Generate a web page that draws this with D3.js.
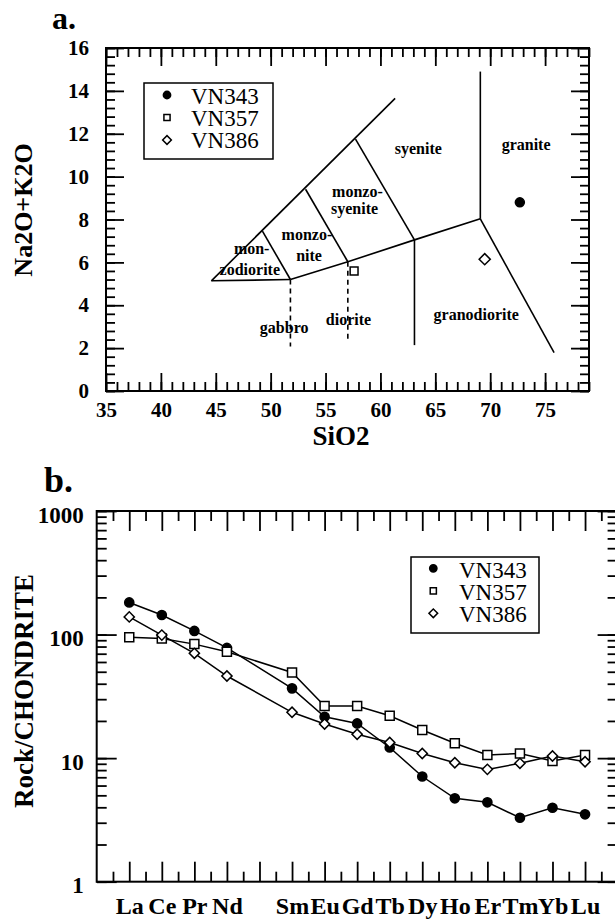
<!DOCTYPE html>
<html>
<head>
<meta charset="utf-8">
<script src="https://cdn.jsdelivr.net/npm/d3@7"></script>
<style>
body { margin: 0; background: #fff; }
</style>
</head>
<body>
<script>
// samples (same order in both panels)
var samples = ["VN343", "VN357", "VN386"];
var shapes = ["circle", "square", "diamond"];

// ---- panel a : TAS diagram ----
var sio2 = [72.7, 57.6, 69.5];
var alkali = [8.8, 5.6, 6.15];
var xTicksA = [35, 40, 45, 50, 55, 60, 65, 70, 75];
var yTicksA = [0, 2, 4, 6, 8, 10, 12, 14, 16];

// field boundaries, [SiO2, Na2O+K2O]
var fieldLines = [
  [[44.6, 5.14], [61.34, 13.65]],
  [[44.6, 5.14], [51.8, 5.2]],
  [[49.25, 7.46], [51.8, 5.2]],
  [[51.8, 5.2], [57.03, 6.03], [63.1, 7.05], [69.1, 8.03]],
  [[53.18, 9.41], [57.03, 6.03]],
  [[57.73, 11.75], [63.1, 7.05]],
  [[63.1, 7.05], [63.1, 2.14]],
  [[69.1, 14.9], [69.1, 8.03]],
  [[69.1, 8.03], [75.82, 1.79]]
];
var fieldDashed = [
  [[51.8, 5.2], [51.8, 2.07]],
  [[57.03, 6.03], [57.03, 2.3]]
];
var fieldNames = ["mon-", "zodiorite", "monzo-", "nite", "monzo-", "syenite",
                  "syenite", "granite", "gabbro", "diorite", "granodiorite"];
var fieldX = [48.27, 48.1, 53.3, 53.5, 57.9, 57.64, 63.45, 73.27, 51.23, 57.09, 68.73];
var fieldY = [6.39, 5.41, 7.04, 6.08, 9.05, 8.26, 11.05, 11.24, 2.7, 3.08, 3.31];

// ---- panel b : REE chondrite normalised ----
var ree = ["La", "Ce", "Pr", "Nd", "Pm", "Sm", "Eu", "Gd", "Tb", "Dy", "Ho", "Er", "Tm", "Yb", "Lu"];
var reeLabels = ["La", "Ce", "Pr", "Nd", "", "Sm", "Eu", "Gd", "Tb", "Dy", "Ho", "Er", "Tm", "Yb", "Lu"];
var vn343 = [182, 144, 107, 78, null, 36.7, 21.6, 19.1, 12.2, 7.1, 4.73, 4.39, 3.29, 3.97, 3.51];
var vn357 = [95, 93, 83.7, 72.6, null, 49.4, 26.4, 26.4, 22.0, 16.9, 13.2, 10.6, 10.9, 9.5, 10.6];
var vn386 = [139, 99, 70.5, 46.2, null, 23.5, 18.9, 15.6, 13.4, 10.9, 9.18, 8.11, 9.08, 10.4, 9.35];
var yTicksB = [1, 10, 100, 1000];

var svg = d3.select("body").append("svg")
  .attr("width", 615)
  .attr("height", 920);

function marker(shape, size) {
  if (shape == "circle") return d3.symbol(d3.symbolCircle, size)();
  return d3.symbol(d3.symbolSquare, size)();
}
function drawMarker(g, shape, x, y, size) {
  var p = g.append("path")
    .attr("d", marker(shape, size))
    .attr("fill", shape == "circle" ? "#000" : "#fff")
    .attr("stroke", "#000")
    .attr("stroke-width", 1.5);
  if (shape == "diamond") p.attr("transform", "translate(" + x + "," + y + ") rotate(45)");
  else p.attr("transform", "translate(" + x + "," + y + ")");
}
function cleanAxis(g, sw) {
  g.select(".domain").remove();
  g.selectAll("line").attr("stroke", "#000").attr("stroke-width", sw);
}

/*==================== panel a ====================*/
var xA = d3.scaleLinear().domain([35, 79]).range([106, 589]);
var yA = d3.scaleLinear().domain([0, 16]).range([391, 48]);

svg.append("text").attr("x", 52).attr("y", 29)
  .attr("font-size", 32).attr("font-weight", "bold").text("a.");

// minor ticks
svg.append("g").attr("transform", "translate(0,391)")
  .call(d3.axisBottom(xA).tickValues(d3.range(35, 80, 1)).tickSize(-9).tickFormat(""))
  .call(cleanAxis, 1.8);
svg.append("g").attr("transform", "translate(0,48)")
  .call(d3.axisTop(xA).tickValues(d3.range(35, 80, 1)).tickSize(-9).tickFormat(""))
  .call(cleanAxis, 1.8);
svg.append("g").attr("transform", "translate(106,0)")
  .call(d3.axisLeft(yA).tickValues(d3.range(0, 16.01, 0.4)).tickSize(-9).tickFormat(""))
  .call(cleanAxis, 1.8);
svg.append("g").attr("transform", "translate(589,0)")
  .call(d3.axisRight(yA).tickValues(d3.range(0, 16.01, 0.4)).tickSize(-9).tickFormat(""))
  .call(cleanAxis, 1.8);

// major ticks + labels
var axA = svg.append("g").attr("transform", "translate(0,391)")
  .call(d3.axisBottom(xA).tickValues(xTicksA).tickSize(-18).tickPadding(11.5))
  .call(cleanAxis, 1.8);
svg.append("g").attr("transform", "translate(0,48)")
  .call(d3.axisTop(xA).tickValues(xTicksA).tickSize(-18).tickFormat(""))
  .call(cleanAxis, 1.8);
var ayA = svg.append("g").attr("transform", "translate(106,0)")
  .call(d3.axisLeft(yA).tickValues(yTicksA).tickSize(-18).tickPadding(17))
  .call(cleanAxis, 1.8);
svg.append("g").attr("transform", "translate(589,0)")
  .call(d3.axisRight(yA).tickValues(yTicksA).tickSize(-18).tickFormat(""))
  .call(cleanAxis, 1.8);
[axA, ayA].forEach(function(g){
  g.selectAll("text").attr("font-size", 21).attr("font-weight", "bold").attr("fill", "#000");
});

svg.append("rect")
  .attr("x", 106).attr("y", 48)
  .attr("width", 589 - 106).attr("height", 391 - 48)
  .attr("fill", "none").attr("stroke", "#000").attr("stroke-width", 2);

svg.append("text").attr("x", 341).attr("y", 445)
  .attr("text-anchor", "middle").attr("font-size", 27).attr("font-weight", "bold")
  .text("SiO2");
svg.append("text").attr("transform", "translate(32,210) rotate(-90)")
  .attr("text-anchor", "middle").attr("font-size", 26).attr("font-weight", "bold")
  .text("Na2O+K2O");

// field boundaries
var lineA = d3.line().x(function(d){ return xA(d[0]); }).y(function(d){ return yA(d[1]); });
svg.append("g").selectAll("path")
  .data(fieldLines).enter().append("path")
  .attr("d", lineA).attr("fill", "none").attr("stroke", "#000").attr("stroke-width", 1.6);
svg.append("g").selectAll("path")
  .data(fieldDashed).enter().append("path")
  .attr("d", lineA).attr("fill", "none").attr("stroke", "#000").attr("stroke-width", 1.6)
  .attr("stroke-dasharray", "5,4");

svg.append("g").selectAll("text")
  .data(fieldNames).enter().append("text")
  .attr("x", function(d, i){ return xA(fieldX[i]); })
  .attr("y", function(d, i){ return yA(fieldY[i]); })
  .attr("text-anchor", "middle").attr("font-size", 16).attr("font-weight", "bold")
  .text(function(d){ return d; });

// samples
var ptsA = svg.append("g");
samples.forEach(function(s, i){
  drawMarker(ptsA, shapes[i], xA(sio2[i]), yA(alkali[i]), shapes[i] == "circle" ? 64 : 62);
});

// legend a
var legA = svg.append("g");
legA.append("rect").attr("x", 144).attr("y", 83).attr("width", 129).attr("height", 76)
  .attr("fill", "#fff").attr("stroke", "#000").attr("stroke-width", 1.5);
samples.forEach(function(s, i){
  drawMarker(legA, shapes[i], 167, 95 + i * 22.5, shapes[i] == "circle" ? 42 : 38);
  legA.append("text").attr("x", 191).attr("y", 104 + i * 22)
    .attr("font-size", 23).text(s);
});

/*==================== panel b ====================*/
var xB = d3.scaleLinear().domain([-1, 15]).range([96.7, 617.6]);
var yB = d3.scaleLog().domain([1, 1000]).range([881.7, 511]);

svg.append("text").attr("x", 44).attr("y", 492)
  .attr("font-size", 36).attr("font-weight", "bold").text("b.");

var idx = d3.range(ree.length);
var half = d3.range(-0.5, 15, 1);

svg.append("g").attr("transform", "translate(0,881.7)")
  .call(d3.axisBottom(xB).tickValues(half).tickSize(-10).tickFormat(""))
  .call(cleanAxis, 1.8);
svg.append("g").attr("transform", "translate(0,511)")
  .call(d3.axisTop(xB).tickValues(half).tickSize(-10).tickFormat(""))
  .call(cleanAxis, 1.8);
var axB = svg.append("g").attr("transform", "translate(0,881.7)")
  .call(d3.axisBottom(xB).tickValues(idx).tickSize(-20).tickPadding(15)
    .tickFormat(function(d){ return reeLabels[d]; }))
  .call(cleanAxis, 1.8);
svg.append("g").attr("transform", "translate(0,511)")
  .call(d3.axisTop(xB).tickValues(idx).tickSize(-20).tickFormat(""))
  .call(cleanAxis, 1.8);

svg.append("g").attr("transform", "translate(96.7,0)")
  .call(d3.axisLeft(yB).tickValues(yB.ticks()).tickSize(-10).tickFormat(""))
  .call(cleanAxis, 1.8);
svg.append("g").attr("transform", "translate(617.6,0)")
  .call(d3.axisRight(yB).tickValues(yB.ticks()).tickSize(-10).tickFormat(""))
  .call(cleanAxis, 1.8);
var ayB = svg.append("g").attr("transform", "translate(96.7,0)")
  .call(d3.axisLeft(yB).tickValues(yTicksB).tickSize(-20).tickPadding(13)
    .tickFormat(d3.format("d")))
  .call(cleanAxis, 1.8);
svg.append("g").attr("transform", "translate(617.6,0)")
  .call(d3.axisRight(yB).tickValues(yTicksB).tickSize(-20).tickFormat(""))
  .call(cleanAxis, 1.8);
axB.selectAll("text").attr("font-size", 24).attr("font-weight", "bold").attr("fill", "#000");
ayB.selectAll("text").attr("font-size", 23).attr("font-weight", "bold")
  .attr("fill", "#000").attr("dy", "0.48em");

svg.append("rect")
  .attr("x", 96.7).attr("y", 511)
  .attr("width", 617.6 - 96.7).attr("height", 881.7 - 511)
  .attr("fill", "none").attr("stroke", "#000").attr("stroke-width", 2);

svg.append("text").attr("transform", "translate(33,691) rotate(-90)")
  .attr("text-anchor", "middle").attr("font-size", 27).attr("font-weight", "bold")
  .text("Rock/CHONDRITE");

// series
var series = [vn343, vn357, vn386];
var lineB = d3.line().x(function(d){ return xB(d[0]); }).y(function(d){ return yB(d[1]); });
var ptsB = series.map(function(vals){
  return vals.map(function(v, i){ return [i, v]; }).filter(function(d){ return d[1] != null; });
});
svg.append("g").selectAll("path")
  .data(ptsB).enter().append("path")
  .attr("d", lineB).attr("fill", "none").attr("stroke", "#000").attr("stroke-width", 1.5);
var mk = svg.append("g");
ptsB.forEach(function(pts, k){
  pts.forEach(function(d){
    drawMarker(mk, shapes[k], xB(d[0]), yB(d[1]), shapes[k] == "circle" ? 66 : (shapes[k] == "square" ? 81 : 52));
  });
});

// legend b
var legB = svg.append("g");
legB.append("rect").attr("x", 411).attr("y", 557).attr("width", 128).attr("height", 76)
  .attr("fill", "#fff").attr("stroke", "#000").attr("stroke-width", 1.5);
samples.forEach(function(s, i){
  drawMarker(legB, shapes[i], 433.3, 568.3 + i * 22.5, shapes[i] == "circle" ? 42 : 38);
  legB.append("text").attr("x", 459).attr("y", 578 + i * 22)
    .attr("font-size", 23).text(s);
});

// serif everywhere, set on each text
svg.selectAll("text").attr("font-family", "Liberation Serif");
</script>
</body>
</html>
